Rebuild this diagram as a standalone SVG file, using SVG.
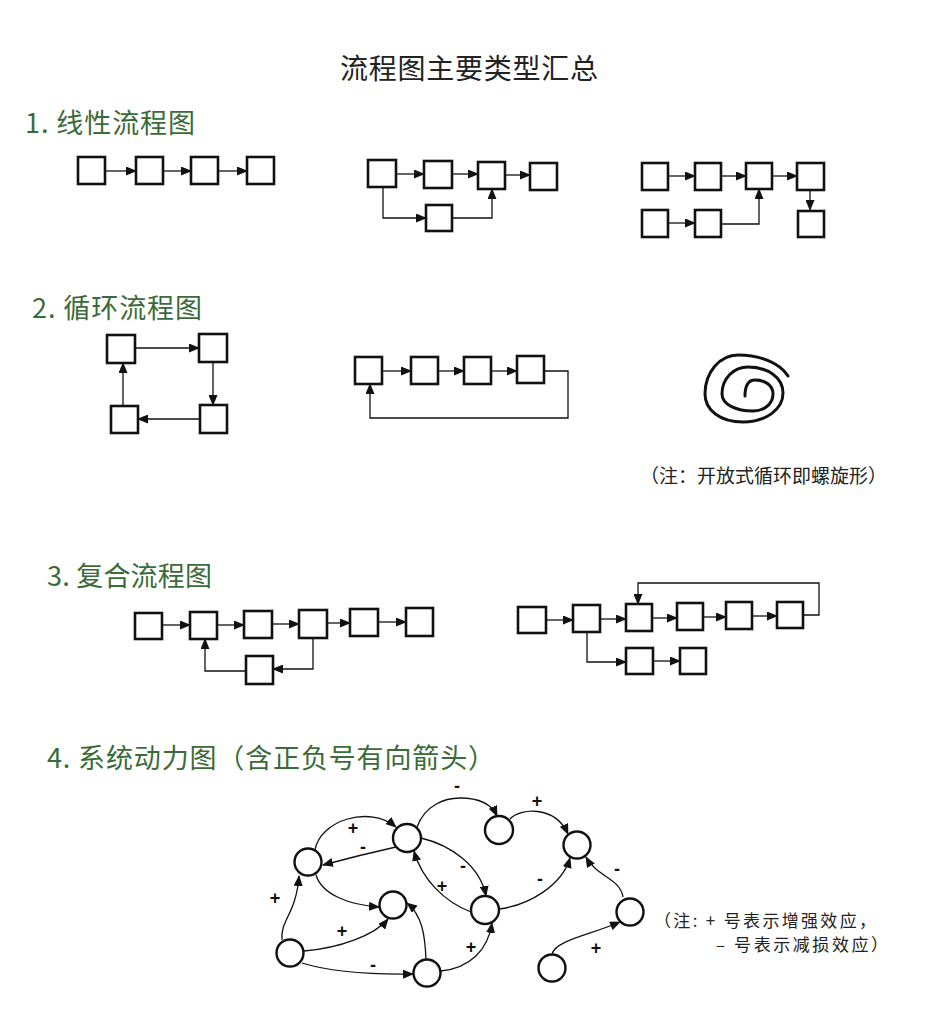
<svg xmlns="http://www.w3.org/2000/svg" width="930" height="1024" viewBox="0 0 930 1024">
<defs>
<marker id="ah" markerUnits="userSpaceOnUse" markerWidth="11" markerHeight="9" refX="10" refY="4.5" orient="auto">
<path d="M0,0 L11,4.5 L0,9 z" fill="#111"/>
</marker>
<style>
.bx{fill:#fff;stroke:#111;stroke-width:2.6}
.cc{fill:#fff;stroke:#111;stroke-width:2.4}
.ar{fill:none;stroke:#111;stroke-width:1.3;marker-end:url(#ah)}
.sp{fill:none;stroke:#111;stroke-width:3;stroke-linecap:round}
.t{font-family:"Noto Sans CJK SC","Liberation Sans",sans-serif}
.h{font-size:27px;fill:#3b6b38}
.n{fill:#222}
.pm{font-family:"Liberation Sans",sans-serif;font-size:18px;font-weight:bold;fill:#111;text-anchor:middle;dominant-baseline:central}
</style>
</defs>
<rect width="930" height="1024" fill="#fff"/>

<g id="texts" class="t">
<text x="340" y="79" font-size="28" fill="#222" textLength="258" lengthAdjust="spacing">流程图主要类型汇总</text>
<text class="h" x="25" y="133" textLength="170" lengthAdjust="spacing">1. 线性流程图</text>
<text class="h" x="32" y="318" textLength="170" lengthAdjust="spacing">2. 循环流程图</text>
<text class="h" x="47" y="586" textLength="165" lengthAdjust="spacing">3. 复合流程图</text>
<text class="h" x="47" y="768" textLength="448" lengthAdjust="spacing">4. 系统动力图（含正负号有向箭头）</text>
<text class="n" x="640" y="483" font-size="19" textLength="247" lengthAdjust="spacing">（注：开放式循环即螺旋形）</text>
<text class="n" x="654" y="927" font-size="17" textLength="222" lengthAdjust="spacing">（注: + 号表示增强效应，</text>
<text class="n" x="716" y="951" font-size="17" textLength="172" lengthAdjust="spacing">– 号表示减损效应）</text>
</g>

<g id="connectors">
<path class="ar" d="M105,171 H136"/>
<path class="ar" d="M163,171 H191"/>
<path class="ar" d="M218,171 H247"/>
<path class="ar" d="M396,174 H424"/>
<path class="ar" d="M452,174 H478"/>
<path class="ar" d="M505,175 H530"/>
<path class="ar" d="M383,187 V218 H426"/>
<path class="ar" d="M452,218 H492 V189"/>
<path class="ar" d="M668,176 H695"/>
<path class="ar" d="M721,176 H746"/>
<path class="ar" d="M772,176 H797"/>
<path class="ar" d="M810,190 V210"/>
<path class="ar" d="M668,223 H695"/>
<path class="ar" d="M721,224 H759 V189"/>
<path class="ar" d="M135,348 H199"/>
<path class="ar" d="M213,362 V405"/>
<path class="ar" d="M200,419 H138"/>
<path class="ar" d="M123,406 V363"/>
<path class="ar" d="M382,371 H411"/>
<path class="ar" d="M438,371 H464"/>
<path class="ar" d="M491,371 H517"/>
<path class="ar" d="M544,371 H568 V418 H370 V384"/>
<path class="ar" d="M162,625 H190"/>
<path class="ar" d="M217,625 H244"/>
<path class="ar" d="M272,624 H299"/>
<path class="ar" d="M327,623 H350"/>
<path class="ar" d="M378,622 H406"/>
<path class="ar" d="M313,638 V669 H273"/>
<path class="ar" d="M246,671 H205 V639"/>
<path class="ar" d="M546,620 H573"/>
<path class="ar" d="M600,619 H626"/>
<path class="ar" d="M652,618 H677"/>
<path class="ar" d="M703,617 H726"/>
<path class="ar" d="M752,616 H777"/>
<path class="ar" d="M803,615 H819 V583 H638 V604"/>
<path class="ar" d="M587,632 V662 H626"/>
<path class="ar" d="M653,661 H680"/>
<path class="ar" d="M315,850 C320,820 370,805 396,827"/>
<path class="ar" d="M396,847 Q360,855 323,865"/>
<path class="ar" d="M316,875 C322,895 350,905 379,907"/>
<path class="ar" d="M282,940 C280,920 296,915 299,876"/>
<path class="ar" d="M304,951 C340,948 375,935 388,919"/>
<path class="ar" d="M302,963 Q340,975 413,974"/>
<path class="ar" d="M426,959 C425,935 422,915 407,903"/>
<path class="ar" d="M421,838 C450,845 480,865 486,896"/>
<path class="ar" d="M471,912 C445,902 422,880 414,851"/>
<path class="ar" d="M441,971 C470,968 488,950 492,923"/>
<path class="ar" d="M417,827 C425,805 445,798 460,798 C480,798 492,805 497,816"/>
<path class="ar" d="M510,819 C520,808 555,805 568,834"/>
<path class="ar" d="M499,909 C530,905 562,885 570,858"/>
<path class="ar" d="M623,897 C620,878 598,878 586,857"/>
<path class="ar" d="M552,954 C556,940 590,935 620,922"/>
</g>

<g id="signs">
<text class="pm" x="353" y="828">+</text>
<text class="pm" x="363" y="847">-</text>
<text class="pm" x="275" y="898">+</text>
<text class="pm" x="342" y="931">+</text>
<text class="pm" x="373" y="965">-</text>
<text class="pm" x="463" y="866">-</text>
<text class="pm" x="442" y="886">+</text>
<text class="pm" x="471" y="947">+</text>
<text class="pm" x="457" y="786">-</text>
<text class="pm" x="537" y="801">+</text>
<text class="pm" x="540" y="879">-</text>
<text class="pm" x="617" y="869">-</text>
<text class="pm" x="596" y="948">+</text>
</g>

<g id="linear1">
<rect class="bx" x="78" y="157" width="27" height="27"/>
<rect class="bx" x="136" y="157" width="27" height="27"/>
<rect class="bx" x="191" y="157" width="27" height="27"/>
<rect class="bx" x="247" y="157" width="27" height="27"/>
</g>
<g id="linear2">
<rect class="bx" x="368" y="160" width="28" height="27"/>
<rect class="bx" x="424" y="161" width="28" height="27"/>
<rect class="bx" x="478" y="162" width="27" height="27"/>
<rect class="bx" x="530" y="163" width="27" height="27"/>
<rect class="bx" x="426" y="205" width="26" height="26"/>
</g>
<g id="linear3">
<rect class="bx" x="642" y="163" width="26" height="27"/>
<rect class="bx" x="695" y="163" width="26" height="27"/>
<rect class="bx" x="746" y="163" width="26" height="26"/>
<rect class="bx" x="797" y="163" width="27" height="27"/>
<rect class="bx" x="642" y="210" width="26" height="27"/>
<rect class="bx" x="695" y="210" width="26" height="27"/>
<rect class="bx" x="798" y="211" width="26" height="26"/>
</g>
<g id="loop1">
<rect class="bx" x="107" y="335" width="28" height="28"/>
<rect class="bx" x="199" y="334" width="28" height="28"/>
<rect class="bx" x="200" y="405" width="27" height="28"/>
<rect class="bx" x="111" y="406" width="27" height="27"/>
</g>
<g id="loop2">
<rect class="bx" x="355" y="357" width="27" height="27"/>
<rect class="bx" x="411" y="357" width="27" height="27"/>
<rect class="bx" x="464" y="357" width="27" height="27"/>
<rect class="bx" x="517" y="356" width="27" height="27"/>
</g>
<g id="spiral">
<path class="sp" d="M745,396 C745,388 747,380 755,380 C766,380 773,386 773,394 C773,404 764,411 753,411 C737,411 722,405 722,394 C722,378 734,367 748,367 C767,367 783,377 783,393 C783,410 765,422 743,422 C720,422 705,410 705,394 C705,372 720,355 738,355 C760,355 780,363 788,376"/>
</g>
<g id="compound1">
<rect class="bx" x="135" y="613" width="27" height="26"/>
<rect class="bx" x="190" y="612" width="27" height="27"/>
<rect class="bx" x="244" y="611" width="28" height="27"/>
<rect class="bx" x="299" y="610" width="28" height="28"/>
<rect class="bx" x="350" y="609" width="28" height="27"/>
<rect class="bx" x="406" y="608" width="27" height="28"/>
<rect class="bx" x="246" y="656" width="27" height="28"/>
</g>
<g id="compound2">
<rect class="bx" x="518" y="607" width="28" height="26"/>
<rect class="bx" x="573" y="605" width="27" height="27"/>
<rect class="bx" x="626" y="604" width="26" height="27"/>
<rect class="bx" x="677" y="603" width="26" height="27"/>
<rect class="bx" x="726" y="602" width="26" height="27"/>
<rect class="bx" x="777" y="602" width="26" height="26"/>
<rect class="bx" x="626" y="648" width="27" height="26"/>
<rect class="bx" x="680" y="648" width="26" height="26"/>
</g>
<g id="sd-nodes">
<circle id="nA" class="cc" cx="308" cy="862" r="13.5"/>
<circle id="nB" class="cc" cx="407" cy="838" r="14"/>
<circle id="nG" class="cc" cx="499" cy="830" r="14"/>
<circle id="nH" class="cc" cx="577" cy="845" r="13.5"/>
<circle id="nC" class="cc" cx="393" cy="905" r="13.5"/>
<circle id="nF" class="cc" cx="485" cy="910" r="14"/>
<circle id="nI" class="cc" cx="630" cy="912" r="13.5"/>
<circle id="nD" class="cc" cx="290" cy="953" r="13.5"/>
<circle id="nE" class="cc" cx="427" cy="973" r="13.5"/>
<circle id="nJ" class="cc" cx="552" cy="968" r="13.5"/>
</g>
</svg>
